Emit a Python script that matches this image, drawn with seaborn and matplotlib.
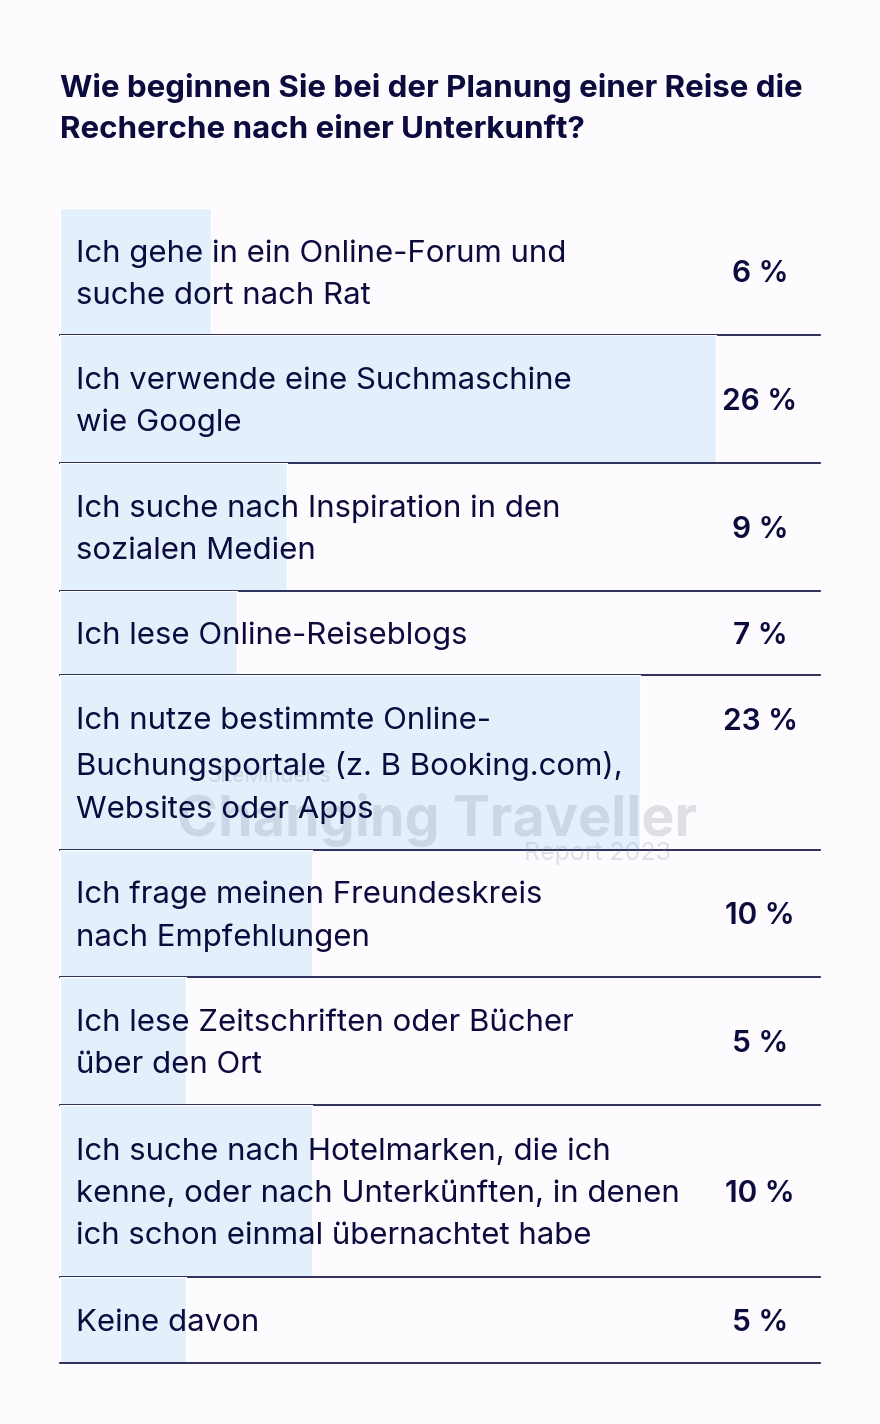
import matplotlib
matplotlib.use("Agg")
import matplotlib.pyplot as plt
import seaborn as sns
import pandas as pd

# ---- data ----
title_lines = ["Wie beginnen Sie bei der Planung einer Reise die",
               "Recherche nach einer Unterkunft?"]
labels = [
    "Ich gehe in ein Online-Forum und\nsuche dort nach Rat",
    "Ich verwende eine Suchmaschine\nwie Google",
    "Ich suche nach Inspiration in den\nsozialen Medien",
    "Ich lese Online-Reiseblogs",
    "Ich nutze bestimmte Online-\nBuchungsportale (z. B Booking.com),\nWebsites oder Apps",
    "Ich frage meinen Freundeskreis\nnach Empfehlungen",
    "Ich lese Zeitschriften oder Bücher\nüber den Ort",
    "Ich suche nach Hotelmarken, die ich\nkenne, oder nach Unterkünften, in denen\nich schon einmal übernachtet habe",
    "Keine davon",
]
values = [6, 26, 9, 7, 23, 10, 5, 10, 5]

# ---- style ----
W, H = 880, 1424
BG = "#fdfbfd"
BAR = "#e3f0fc"
NAVY = "#0b0b3d"
FONT = ["Inter", "DejaVu Sans"]

sns.set_theme(style="white")
plt.rcParams["font.family"] = FONT

fig = plt.figure(figsize=(W / 100, H / 100), dpi=100)
fig.patch.set_facecolor(BG)

# row boundaries in pixels (top of figure = 0)
bounds = [208, 335, 463, 591, 675, 850, 977, 1105, 1277, 1363]
left_px, right_px = 60, 820
XMAX = 30.12
SHIFT = 3  # px downward nudge for texts

for i, (lab, val) in enumerate(zip(labels, values)):
    top, bot = bounds[i], bounds[i + 1]
    h = bot - top
    ax = fig.add_axes([left_px / W, 1 - bot / H, (right_px - left_px) / W, h / H])
    df = pd.DataFrame({"cat": [lab], "val": [val]})
    sns.barplot(data=df, x="val", y="cat", orient="h", width=1.0, color=BAR,
                saturation=1, ax=ax, errorbar=None)
    ax.set_xlim(0, XMAX)
    ax.set_ylim(0.5, -0.5)
    ax.set_facecolor("none")
    ax.set_xticks([]); ax.set_yticks([])
    ax.set_xlabel(""); ax.set_ylabel("")
    for s in ["top", "left", "right"]:
        ax.spines[s].set_visible(False)
    ax.spines["bottom"].set_color(NAVY)
    ax.spines["bottom"].set_linewidth(1.2)

    ax.text(16 / 760, 0.5 - SHIFT / h, lab, transform=ax.transAxes, ha="left", va="center",
            fontsize=22.4, color=NAVY, linespacing=1.64, zorder=5)
    # value
    if i == 4:
        vy = 1 - (722 - top) / h
    else:
        vy = 0.5 - SHIFT / h
    ax.text(700 / 760, vy, f"{val} %", transform=ax.transAxes, ha="center", va="center",
            fontsize=21.5, color=NAVY, fontweight="semibold", zorder=5)

    if i == 4:
        wm = "#787d98"
        ax.text(437 / W, 1 - 836 / H, "Changing Traveller", transform=fig.transFigure,
                ha="center", va="baseline", fontsize=40, fontweight="bold",
                color=wm, alpha=0.22, zorder=3, clip_on=False)
        ax.text(270 / W, 1 - 782 / H, "SiteMinder's", transform=fig.transFigure,
                ha="center", va="baseline", fontsize=15,
                color=wm, alpha=0.22, zorder=3, clip_on=False)
        ax.text(598 / W, 1 - 860 / H, "Report 2023", transform=fig.transFigure,
                ha="center", va="baseline", fontsize=18,
                color=wm, alpha=0.22, zorder=3, clip_on=False)

# title
fig.text(60 / W, 1 - 97 / H, title_lines[0], ha="left", va="baseline",
         fontsize=22.5, fontweight="bold", color=NAVY)
fig.text(60 / W, 1 - 138 / H, title_lines[1], ha="left", va="baseline",
         fontsize=22.5, fontweight="bold", color=NAVY)

fig.savefig("out.png", dpi=100, facecolor=BG)
